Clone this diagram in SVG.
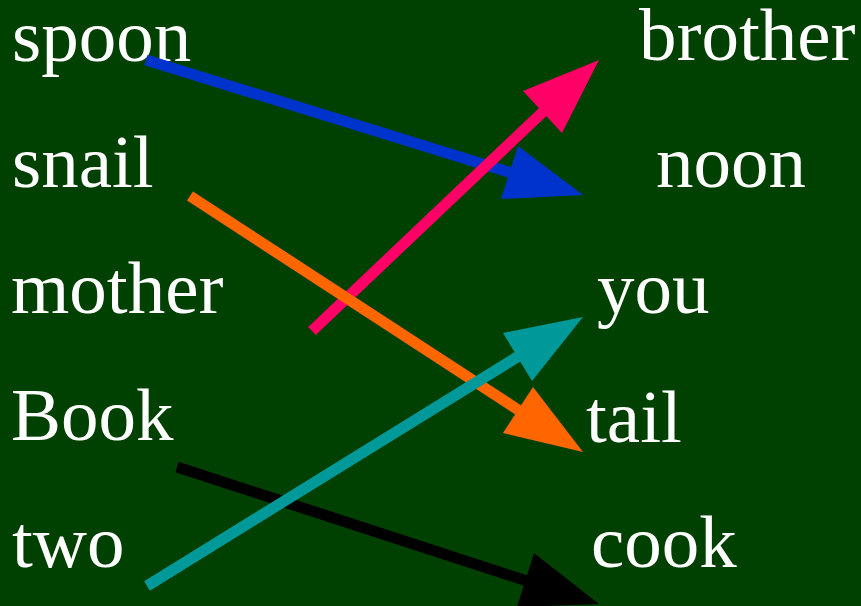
<svg xmlns="http://www.w3.org/2000/svg" width="861" height="606" viewBox="0 0 861 606">
<style>
  .w { font-family: "Liberation Serif", "Times New Roman", serif; font-size: 75px; fill: #ffffff; }
  .ln { stroke-width: 11; fill: none; stroke-linecap: butt; }
</style>
<rect x="0" y="0" width="861" height="606" fill="#004000"/>
<g id="left-words">
  <g id="spoon"><text class="w" x="12" y="61">spoon</text></g>
  <g id="snail"><text class="w" x="12" y="187">snail</text></g>
  <g id="mother"><text class="w" x="11" y="313">mother</text></g>
  <g id="Book"><text class="w" x="11" y="440">Book</text></g>
  <g id="two"><text class="w" x="12" y="567">two</text></g>
</g>
<g id="right-words">
  <g id="brother"><text class="w" x="639" y="60">brother</text></g>
  <g id="noon"><text class="w" x="656" y="187">noon</text></g>
  <g id="you"><text class="w" x="597" y="313">you</text></g>
  <g id="tail"><text class="w" x="586" y="442">tail</text></g>
  <g id="cook"><text class="w" x="591" y="567">cook</text></g>
</g>
<g id="connectors">
  <g id="blue-arrow">
    <line class="ln" stroke="#0033cc" x1="146" y1="60" x2="515" y2="174"/>
    <polygon fill="#0033cc" points="583,195 518,146 501,199"/>
  </g>
  <g id="pink-arrow">
    <line class="ln" stroke="#ff0066" x1="312" y1="331" x2="547" y2="108"/>
    <polygon fill="#ff0066" points="599,60 523,91 562,133"/>
  </g>
  <g id="orange-arrow">
    <line class="ln" stroke="#ff6600" x1="190" y1="196" x2="523" y2="413"/>
    <polygon fill="#ff6600" points="583,452 533,387 503,433"/>
  </g>
  <g id="black-arrow">
    <line class="ln" stroke="#000000" x1="177" y1="467" x2="530" y2="582"/>
    <polygon fill="#000000" points="599,604 534,553 517,607"/>
  </g>
  <g id="teal-arrow">
    <line class="ln" stroke="#009999" x1="147" y1="586" x2="522" y2="354"/>
    <polygon fill="#009999" points="583,317 503,333 532,381"/>
  </g>
</g>
</svg>
